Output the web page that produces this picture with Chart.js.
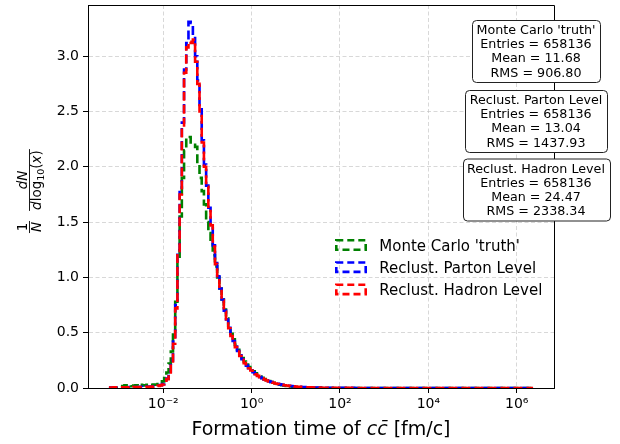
<!DOCTYPE html>
<html lang="en">
<head>
<meta charset="UTF-8">
<title>Formation time of cc̄</title>
<script src="https://cdn.jsdelivr.net/npm/chart.js"></script>
<style>
  html, body { margin: 0; padding: 0; background: #fff; }
  #chart { display: block; }
</style>
</head>
<body>
<canvas id="chart" width="620" height="444"></canvas>
<script>
// histogram binning, in log10(formation time)
const logBinStart = -3.23;
const logBinWidth = 0.05;

// 1/N dN/dlog10(x), one value per bin (192 bins)
const truthValues = [
  0, 0, 0, 0, 0, 0, 0.018, 0.024, 0.020, 0.026,
  0.016, 0.022, 0.025, 0.020, 0.028, 0.022, 0.025, 0.030, 0.024, 0.028,
  0.032, 0.030, 0.036, 0.045, 0.060, 0.090, 0.14, 0.22, 0.33, 0.50,
  0.78, 1.15, 1.55, 1.90, 2.15, 2.27, 2.27, 2.20, 2.20, 2.18,
  2.02, 1.90, 1.78, 1.66, 1.50, 1.40, 1.30, 1.20, 1.10, 1.00,
  0.90, 0.80, 0.71, 0.63, 0.56, 0.49, 0.44, 0.39, 0.345, 0.305,
  0.27, 0.24, 0.213, 0.19, 0.168, 0.15, 0.133, 0.118, 0.104, 0.092,
  0.081, 0.071, 0.062, 0.054, 0.047, 0.041, 0.035, 0.030, 0.026, 0.022,
  0.019, 0.016, 0.013, 0.011, 0.009, 0.0075, 0.006, 0.005, 0.004, 0.0032,
  0.0025, 0.002, 0.0015, 0.0012, 0.0009, 0.0007, 0.0005, 0.0004, 0.0003, 0.0002,
  0.0001, 0.0001, 0.0001, 0.0001, 0, 0, 0, 0, 0, 0,
  0, 0, 0, 0, 0, 0, 0, 0, 0, 0,
  0, 0, 0, 0, 0, 0, 0, 0, 0, 0,
  0, 0, 0, 0, 0, 0, 0, 0, 0, 0,
  0, 0, 0, 0, 0, 0, 0, 0, 0, 0,
  0, 0, 0, 0, 0, 0, 0, 0, 0, 0,
  0, 0, 0, 0, 0, 0, 0, 0, 0, 0,
  0, 0, 0, 0, 0, 0, 0, 0, 0, 0,
  0, 0, 0, 0, 0, 0, 0, 0, 0, 0,
  0, 0
];
const partonValues = [
  0.003, 0.004, 0.005, 0.006, 0.005, 0.006, 0.006, 0.007, 0.006, 0.008,
  0.007, 0.008, 0.009, 0.008, 0.010, 0.009, 0.011, 0.012, 0.011, 0.013,
  0.015, 0.018, 0.021, 0.026, 0.035, 0.05, 0.085, 0.15, 0.25, 0.42,
  0.75, 1.24, 1.80, 2.40, 2.88, 3.12, 3.31, 3.30, 3.18, 3.00,
  2.78, 2.52, 2.24, 2.02, 1.83, 1.63, 1.48, 1.29, 1.13, 1.01,
  0.90, 0.80, 0.70, 0.62, 0.545, 0.475, 0.425, 0.375, 0.335, 0.295,
  0.26, 0.228, 0.202, 0.18, 0.16, 0.142, 0.127, 0.112, 0.099, 0.088,
  0.078, 0.069, 0.061, 0.054, 0.048, 0.042, 0.037, 0.033, 0.029, 0.026,
  0.023, 0.020, 0.018, 0.016, 0.014, 0.012, 0.0105, 0.0093, 0.0082, 0.0072,
  0.0063, 0.0055, 0.0048, 0.0042, 0.0037, 0.0033, 0.0029, 0.0026, 0.0023, 0.0020,
  0.0017, 0.0015, 0.0013, 0.0012, 0.0011, 0.0010, 0.0009, 0.0008, 0.0008, 0.0007,
  0.0007, 0.0006, 0.0006, 0.0005, 0.0005, 0.0005, 0.0004, 0.0004, 0.0004, 0.0004,
  0.0003, 0.0003, 0.0003, 0.0003, 0.0003, 0.0003, 0.0003, 0.0003, 0.0003, 0.0003,
  0.0003, 0.0003, 0.0003, 0.0002, 0.0002, 0.0002, 0.0002, 0.0002, 0.0002, 0.0002,
  0.0002, 0.0002, 0.0002, 0.0002, 0.0002, 0.0002, 0.0002, 0.0002, 0.0002, 0.0002,
  0.0002, 0.0002, 0.0001, 0.0001, 0.0001, 0.0001, 0.0001, 0.0001, 0.0001, 0.0001,
  0.0001, 0.0001, 0.0001, 0.0001, 0.0001, 0.0001, 0.0001, 0.0001, 0.0001, 0.0001,
  0.0001, 0.0001, 0.0001, 0.0001, 0.0001, 0.0001, 0.0001, 0.0001, 0.0001, 0.0001,
  0.0001, 0.0001, 0.0001, 0.0001, 0.0001, 0.00005, 0.00005, 0.00005, 0.00005, 0.00005,
  0.00005, 0.00005
];
const hadronValues = [
  0.004, 0.005, 0.006, 0.004, 0.006, 0.005, 0.007, 0.005, 0.006, 0.007,
  0.006, 0.008, 0.007, 0.008, 0.009, 0.008, 0.010, 0.011, 0.010, 0.012,
  0.014, 0.016, 0.019, 0.024, 0.032, 0.045, 0.08, 0.14, 0.24, 0.40,
  0.72, 1.20, 1.75, 2.35, 2.85, 3.08, 3.13, 3.12, 3.15, 2.95,
  2.75, 2.50, 2.22, 2.00, 1.82, 1.62, 1.47, 1.28, 1.12, 1.00,
  0.89, 0.79, 0.69, 0.61, 0.54, 0.47, 0.42, 0.37, 0.33, 0.29,
  0.255, 0.225, 0.200, 0.178, 0.158, 0.140, 0.125, 0.110, 0.098, 0.087,
  0.077, 0.068, 0.060, 0.053, 0.047, 0.041, 0.036, 0.032, 0.028, 0.025,
  0.022, 0.019, 0.017, 0.015, 0.013, 0.0115, 0.010, 0.009, 0.008, 0.007,
  0.006, 0.0053, 0.0047, 0.0041, 0.0036, 0.0032, 0.0028, 0.0025, 0.0022, 0.0019,
  0.0017, 0.0015, 0.0013, 0.0012, 0.0011, 0.0010, 0.0009, 0.0008, 0.0008, 0.0007,
  0.0007, 0.0006, 0.0006, 0.0005, 0.0005, 0.0005, 0.0004, 0.0004, 0.0004, 0.0004,
  0.0003, 0.0003, 0.0003, 0.0003, 0.0003, 0.0003, 0.0003, 0.0003, 0.0003, 0.0003,
  0.0003, 0.0003, 0.0003, 0.0002, 0.0002, 0.0002, 0.0002, 0.0002, 0.0002, 0.0002,
  0.0002, 0.0002, 0.0002, 0.0002, 0.0002, 0.0002, 0.0002, 0.0002, 0.0002, 0.0002,
  0.0002, 0.0002, 0.0001, 0.0001, 0.0001, 0.0001, 0.0001, 0.0001, 0.0001, 0.0001,
  0.0001, 0.0001, 0.0001, 0.0001, 0.0001, 0.0001, 0.0001, 0.0001, 0.0001, 0.0001,
  0.0001, 0.0001, 0.0001, 0.0001, 0.0001, 0.0001, 0.0001, 0.0001, 0.0001, 0.0001,
  0.0001, 0.0001, 0.0001, 0.0001, 0.0001, 0.00005, 0.00005, 0.00005, 0.00005, 0.00005,
  0.00005, 0.00005
];

const seriesLabels = ["Monte Carlo 'truth'", 'Reclust. Parton Level', 'Reclust. Hadron Level'];
const seriesColors = ['green', 'blue', 'red'];

// statistics boxes
const statEntries = ['658136', '658136', '658136'];
const statMeans = ['11.68', '13.04', '24.47'];
const statRms = ['906.80', '1437.93', '2338.34'];

// axes
const xMinLog = -3.704;
const xMaxLog = 6.844;
const xTickValues = [1e-2, 1e0, 1e2, 1e4, 1e6];
const xTickLabels = ['10⁻²', '10⁰', '10²', '10⁴', '10⁶'];
const yMax = 3.463;
const yTickValues = [0, 0.5, 1.0, 1.5, 2.0, 2.5, 3.0];

const FONT = '"DejaVu Sans", "Liberation Sans", sans-serif';

// histogram -> stepped line points at the bin edges
function histPoints(values) {
  const pts = values.map((v, i) => ({ x: Math.pow(10, logBinStart + i * logBinWidth), y: v }));
  pts.push({ x: Math.pow(10, logBinStart + values.length * logBinWidth), y: values[values.length - 1] });
  return pts;
}

function makeDataset(i, values) {
  return {
    label: seriesLabels[i],
    data: histPoints(values),
    borderColor: seriesColors[i],
    backgroundColor: 'transparent',
    borderWidth: 2.6,
    borderDash: [9, 4],
    borderCapStyle: 'butt',
    borderJoinStyle: 'miter',
    stepped: true,
    fill: false,
    pointRadius: 0,
    order: 3 - i
  };
}

// draw a row of text pieces with different fonts, starting at x
function drawRuns(ctx, runs, x, y) {
  for (const r of runs) {
    ctx.font = r.font;
    ctx.fillText(r.text, x, y + (r.dy || 0));
    x += ctx.measureText(r.text).width;
  }
}
function runsWidth(ctx, runs) {
  let w = 0;
  for (const r of runs) {
    ctx.font = r.font;
    w += ctx.measureText(r.text).width;
  }
  return w;
}

function roundedBox(ctx, x, y, w, h, r) {
  ctx.beginPath();
  ctx.moveTo(x + r, y);
  ctx.lineTo(x + w - r, y);
  ctx.arcTo(x + w, y, x + w, y + r, r);
  ctx.lineTo(x + w, y + h - r);
  ctx.arcTo(x + w, y + h, x + w - r, y + h, r);
  ctx.lineTo(x + r, y + h);
  ctx.arcTo(x, y + h, x, y + h - r, r);
  ctx.lineTo(x, y + r);
  ctx.arcTo(x, y, x + r, y, r);
  ctx.closePath();
}

const decorPlugin = {
  id: 'decor',
  afterDraw(chart) {
    const ctx = chart.ctx;
    const area = chart.chartArea;
    ctx.save();

    // top and right spines
    ctx.strokeStyle = '#000';
    ctx.lineWidth = 1;
    ctx.beginPath();
    ctx.moveTo(area.left, area.top + 0.5);
    ctx.lineTo(area.right + 0.5, area.top + 0.5);
    ctx.lineTo(area.right + 0.5, area.bottom);
    ctx.stroke();

    // statistics boxes
    const statFont = '12.7px ' + FONT;
    const boxCenter = area.right - 18;
    const boxTops = [20, 90, 158.5];
    ctx.textAlign = 'center';
    ctx.textBaseline = 'alphabetic';
    seriesLabels.forEach((label, k) => {
      const lines = [label, 'Entries = ' + statEntries[k], 'Mean = ' + statMeans[k], 'RMS = ' + statRms[k]];
      ctx.font = statFont;
      const w = Math.max(...lines.map(l => ctx.measureText(l).width)) + 9;
      const top = boxTops[k];
      roundedBox(ctx, Math.round(boxCenter - w / 2) + 0.5, top + 0.5, Math.round(w), 62, 4);
      ctx.fillStyle = '#fff';
      ctx.fill();
      ctx.strokeStyle = '#222';
      ctx.lineWidth = 1;
      ctx.stroke();
      ctx.fillStyle = '#000';
      lines.forEach((l, j) => ctx.fillText(l, boxCenter, top + 14 + j * 14.2));
    });

    // legend
    const legendX = 335, legendY = 245, rowGap = 22.2;
    ctx.textAlign = 'left';
    ctx.font = '15px ' + FONT;
    chart.data.datasets.forEach((ds, k) => {
      const y = legendY + k * rowGap;
      ctx.save();
      ctx.strokeStyle = ds.borderColor;
      ctx.lineWidth = ds.borderWidth;
      ctx.setLineDash([7, 4]);
      ctx.strokeRect(legendX + 1.3, y - 6 + 1.3, 32 - 2.6, 12 - 2.6);
      ctx.restore();
      ctx.fillStyle = '#000';
      ctx.fillText(ds.label, legendX + 44.3, y + 6);
    });

    // x axis title: Formation time of cc̄ [fm/c]
    const xr = [
      { text: 'Formation time of ', font: '19px ' + FONT },
      { text: 'c', font: 'italic 19px ' + FONT },
      { text: 'c\u0304', font: 'italic 19px ' + FONT },
      { text: ' [fm/c]', font: '19px ' + FONT }
    ];
    const xw = runsWidth(ctx, xr);
    drawRuns(ctx, xr, (area.left + area.right) / 2 - xw / 2, 435);

    // y axis title: 1/N dN/dlog10(x), rotated
    ctx.translate(29.5, 180);
    ctx.rotate(-Math.PI / 2);
    const f = '13.5px ' + FONT, fi = 'italic 13.5px ' + FONT;
    const num1 = [{ text: '1', font: f }];
    const den1 = [{ text: 'N', font: fi }];
    const num2 = [{ text: 'd', font: fi }, { text: 'N', font: fi }];
    const den2 = [
      { text: 'd', font: fi }, { text: 'log', font: f },
      { text: '10', font: '9.5px ' + FONT, dy: 3 },
      { text: '(', font: f }, { text: 'x', font: fi }, { text: ')', font: f }
    ];
    const fracs = [[num1, den1, -47], [num2, den2, 0]];
    for (const [num, den, cu] of fracs) {
      const wn = runsWidth(ctx, num), wd = runsWidth(ctx, den);
      const wb = Math.max(wn, wd) + 2;
      drawRuns(ctx, num, cu - wn / 2, -2.5);
      drawRuns(ctx, den, cu - wd / 2, 11.5);
      ctx.fillRect(cu - wb / 2, -0.45, wb, 0.9);
    }
    ctx.restore();
  }
};

new Chart(document.getElementById('chart'), {
  type: 'line',
  data: {
    datasets: [
      makeDataset(0, truthValues),
      makeDataset(1, partonValues),
      makeDataset(2, hadronValues)
    ]
  },
  options: {
    responsive: false,
    animation: false,
    layout: { padding: { top: 5, right: 66, left: 0, bottom: 0 } },
    plugins: { legend: { display: false }, tooltip: { enabled: false } },
    scales: {
      x: {
        type: 'logarithmic',
        min: Math.pow(10, xMinLog),
        max: Math.pow(10, xMaxLog),
        afterBuildTicks: s => { s.ticks = xTickValues.map(v => ({ value: v })); },
        afterFit: s => { s.height = 56; s.paddingLeft = 0; s.paddingRight = 0; },
        ticks: {
          callback: (v, i) => xTickLabels[i],
          font: { family: FONT, size: 14 },
          color: '#000',
          padding: 3,
          maxRotation: 0,
          autoSkip: false
        },
        grid: { color: 'rgba(176,176,176,0.55)', lineWidth: 0.9, tickColor: '#000', tickLength: 5, tickWidth: 1 },
        border: { display: true, color: '#000', width: 1, dash: [4, 2.5] }
      },
      y: {
        type: 'linear',
        min: 0,
        max: yMax,
        afterBuildTicks: s => { s.ticks = yTickValues.map(v => ({ value: v })); },
        afterFit: s => { s.width = 88; s.paddingTop = 0; s.paddingBottom = 0; },
        ticks: {
          callback: v => v.toFixed(1),
          font: { family: FONT, size: 14 },
          color: '#000',
          padding: 4
        },
        grid: { color: 'rgba(176,176,176,0.55)', lineWidth: 0.9, tickColor: '#000', tickLength: 5, tickWidth: 1 },
        border: { display: true, color: '#000', width: 1, dash: [4, 2.5] }
      }
    }
  },
  plugins: [decorPlugin]
});
</script>
</body>
</html>
